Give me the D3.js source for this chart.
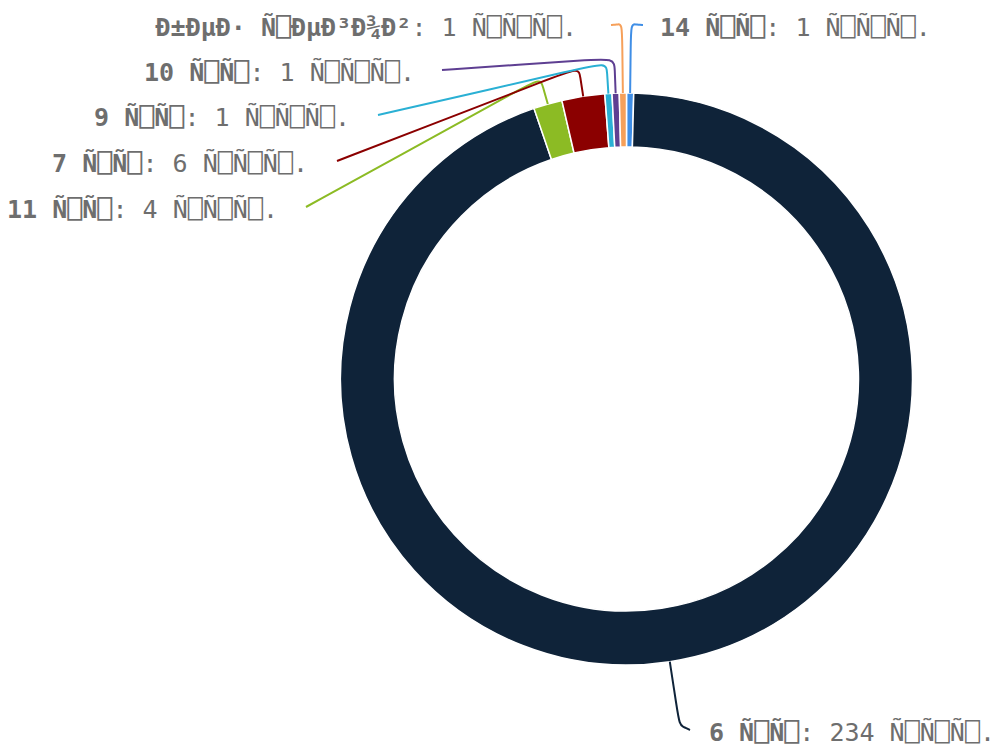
<!DOCTYPE html>
<html>
<head>
<meta charset="utf-8">
<script src="https://cdn.jsdelivr.net/npm/d3@7"></script>
<style>
  body { margin: 0; background: #fff; }
  svg { display: block; }
</style>
</head>
<body>
<div id="chart"></div>
<script>
// Dados (ordem das fatias no sentido horário a partir do topo)
// ⎕ = caractere de controle exibido como caixa (texto mal decodificado)
const names = ["14 Ñ⎕Ñ⎕", "6 Ñ⎕Ñ⎕", "11 Ñ⎕Ñ⎕", "7 Ñ⎕Ñ⎕", "9 Ñ⎕Ñ⎕", "10 Ñ⎕Ñ⎕", "Ð±ÐµÐ· Ñ⎕ÐµÐ³Ð¾Ð²"];
const values = [1, 234, 4, 6, 1, 1, 1];
const unit = "Ñ⎕Ñ⎕Ñ⎕.";
const colors = ["#3f8ee6", "#0f2339", "#8cbb24", "#8b0000", "#2ab0d4", "#5e3f92", "#f6a05a"];

// Posição dos rótulos (layout)
const labelLayout = [
    { elbowR: 355, x: 643, y: 27, side: "right", gap: 17 },
    { elbowR: 350, x: 690, y: 732, side: "right", gap: 19 },
    { elbowR: 313, x: 306, y: 209, side: "left", gap: 28 },
    { elbowR: 315, x: 337, y: 163, side: "left", gap: 29 },
    { elbowR: 317, x: 378, y: 117, side: "left", gap: 28 },
    { elbowR: 321, x: 442, y: 72, side: "left", gap: 27 },
    { elbowR: 355, x: 611, y: 27, side: "left", gap: 34 }
];

const config = {
    width: 994,
    height: 744,
    cx: 626.5,
    cy: 379,
    outerR: 286,
    innerR: 232,
    fontSize: 25
};

const svg = d3.select("#chart")
    .append("svg")
    .attr("width", config.width)
    .attr("height", config.height);

const g = svg.append("g")
    .attr("transform", `translate(${config.cx},${config.cy})`);

const data = names.map((n, i) => ({ name: n, value: values[i], color: colors[i], layout: labelLayout[i] }));

const pie = d3.pie().sort(null).value(d => d.value);
const arcs = pie(data);

const arc = d3.arc()
    .innerRadius(config.innerR)
    .outerRadius(config.outerR);

// Fatias
g.selectAll("path.slice")
    .data(arcs)
    .enter()
    .append("path")
    .attr("class", "slice")
    .attr("d", arc)
    .attr("fill", d => d.data.color)
    .attr("stroke", "#fff")
    .attr("stroke-width", 1.5);

// Ponto polar -> cartesiano (relativo ao centro)
function polar(angle, r) {
    return [r * Math.sin(angle), -r * Math.cos(angle)];
}

function lerp(p, q, t) {
    return [p[0] + (q[0] - p[0]) * t, p[1] + (q[1] - p[1]) * t];
}

// Linhas dos rótulos
const line = d3.line().curve(d3.curveBasis);

g.selectAll("path.label-line")
    .data(arcs)
    .enter()
    .append("path")
    .attr("class", "label-line")
    .attr("fill", "none")
    .attr("stroke", d => d.data.color)
    .attr("stroke-width", 2)
    .attr("d", d => {
        const mid = (d.startAngle + d.endAngle) / 2;
        const a = polar(mid, config.outerR);
        const e = polar(mid, d.data.layout.elbowR);
        const end = [d.data.layout.x - config.cx, d.data.layout.y - config.cy - 2];
        const p1 = lerp(a, e, 0.7);
        const len = Math.hypot(end[0] - e[0], end[1] - e[1]);
        const p2 = lerp(e, end, Math.min(30, len * 0.4) / len);
        const p3 = lerp(e, end, 0.6);
        return line([a, a, p1, e, p2, p3, end, end]);
    });

// Rótulos
const labels = svg.append("g")
    .attr("font-family", "'DejaVu Sans Mono', monospace")
    .attr("font-size", config.fontSize)
    .attr("fill", "#6e6e6e")
    .selectAll("text")
    .data(arcs)
    .enter()
    .append("text")
    .attr("x", d => d.data.layout.side === "right" ? d.data.layout.x + d.data.layout.gap : d.data.layout.x - d.data.layout.gap)
    .attr("y", d => d.data.layout.y)
    .attr("dy", "0.35em")
    .attr("text-anchor", d => d.data.layout.side === "right" ? "start" : "end")
    .attr("xml:space", "preserve");

labels.append("tspan")
    .attr("font-weight", "bold")
    .text(d => d.data.name);

labels.append("tspan")
    .text(d => ": " + d.data.value + " " + unit);
</script>
</body>
</html>
